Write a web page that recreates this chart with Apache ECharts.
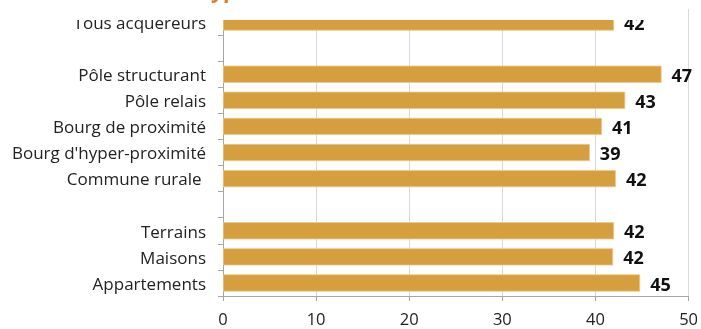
<!DOCTYPE html>
<html><head><meta charset="utf-8">
<script src="https://cdn.jsdelivr.net/npm/echarts@6/dist/echarts.min.js"></script>
<style>html,body{margin:0;padding:0;background:#fff}#c{width:701px;height:329px}</style>
</head><body><div id="c"></div>
<script>
const categories = ["Tous acquéreurs", "", "Pôle structurant", "Pôle relais", "Bourg de proximité", "Bourg d'hyper-proximité", "Commune rurale ", " ", "Terrains", "Maisons", "Appartements"];
const values = [42.0, null, 47.1, 43.2, 40.7, 39.4, 42.2, null, 42.0, 41.9, 44.8];
const xTicks = [0, 10, 20, 30, 40, 50];

const chart = echarts.init(document.getElementById('c'));
chart.setOption({
  animation: false,
  grid: {left: 223, right: 12, top: 9, bottom: 30, containLabel: false},
  xAxis: {
    type: 'value', min: xTicks[0], max: xTicks[xTicks.length-1], interval: 10,
    axisLine: {show: true, lineStyle: {color: '#a6a6a6'}},
    axisTick: {show: true, length: 5, lineStyle: {color: '#a6a6a6'}},
    splitLine: {show: true, lineStyle: {color: '#d9d9d9'}},
    axisLabel: {color: '#222', fontFamily: 'Open Sans', fontSize: 16.5, margin: 16}
  },
  yAxis: {
    type: 'category', data: categories, inverse: true,
    axisLine: {show: true, lineStyle: {color: '#a6a6a6'}},
    axisTick: {show: true, length: 5, lineStyle: {color: '#a6a6a6'}},
    axisLabel: {margin: 17,
      formatter: v => '{a|' + v + '}',
      rich: {a: {color: '#222', fontFamily: 'Open Sans', fontSize: 17, lineHeight: 20, padding: [4, 0, 0, 0]}}}
  },
  series: [{
    type: 'bar', data: values, barCategoryGap: '34%',
    itemStyle: {color: '#D59E3E', borderColor: '#EBCB8C', borderWidth: 0.8},
    label: {show: true, position: 'right', distance: 10,
      formatter: p => '{b|' + Math.round(p.value) + '}',
      rich: {b: {color: '#111', fontFamily: 'Open Sans', fontWeight: 'bold', fontSize: 18, lineHeight: 21, padding: [5, 0, 0, 0]}}}
  }],
  graphic: [
    {type: 'rect', left: 0, top: 0, shape: {x: 0, y: 0, width: 686, height: 20}, style: {fill: '#fff'}, z: 100},
    {type: 'text', x: 211, y: -18, style: {text: 'yp', fill: '#E07B2A', font: 'bold 21px "Open Sans"'}, z: 101}
  ]
});
</script></body></html>
